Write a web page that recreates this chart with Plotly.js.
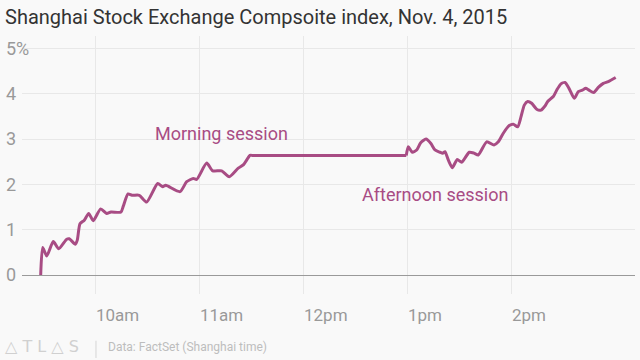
<!DOCTYPE html>
<html><head><meta charset="utf-8">
<script src="https://cdn.plot.ly/plotly-3.0.1.min.js"></script>
<style>html,body{margin:0;padding:0;background:#f9f9f9}#chart{width:640px;height:360px}</style>
</head><body><div id="chart"></div>
<script>
const tradeDate = "2015-11-04";
const times = ["09:28:06","09:29:15","09:31:34","09:35:22","09:38:29","09:43:06","09:44:36","09:48:04","09:49:13","09:50:46",
"09:53:15","09:55:47","09:58:26","10:02:43","10:06:10","10:08:39","10:14:25","10:15:45","10:18:28","10:20:46",
"10:24:59","10:29:13","10:35:36","10:38:29","10:40:13","10:48:28","10:52:20","10:56:08","10:58:06","11:03:52",
"11:07:20","11:12:31","11:16:54","11:22:06","11:24:59","11:28:51","11:30:00","12:59:00","13:00:10","13:02:29",
"13:05:01","13:07:20","13:10:23","13:13:06","13:15:35","13:18:28","13:20:01","13:21:21","13:23:15","13:25:34",
"13:28:26","13:30:59","13:35:22","13:38:05","13:40:34","13:45:24","13:49:37","13:52:06","13:54:59","13:58:26",
"14:00:45","14:03:17","14:05:11","14:07:06","14:09:04","14:11:22","14:14:15","14:16:44","14:19:02","14:20:36",
"14:23:50","14:25:47","14:28:16","14:30:35","14:32:53","14:35:56","14:38:15","14:40:34","14:42:31","14:44:25",
"14:47:08","14:49:47","14:52:40","14:55:33","14:59:50"];
const changePct = [0,0.61,0.42,0.74,0.58,0.79,0.80,0.68,0.77,1.13,
1.21,1.36,1.20,1.46,1.36,1.39,1.39,1.52,1.79,1.76,
1.76,1.61,2.02,1.95,1.98,1.84,2.06,2.13,2.11,2.47,
2.30,2.30,2.17,2.36,2.43,2.64,2.64,2.64,2.83,2.71,
2.76,2.92,3.00,2.91,2.76,2.71,2.69,2.72,2.54,2.37,
2.55,2.49,2.71,2.69,2.65,2.94,2.87,2.94,3.13,3.30,
3.33,3.27,3.49,3.75,3.83,3.79,3.66,3.64,3.73,3.83,
3.94,4.08,4.22,4.25,4.12,3.90,4.05,4.08,4.12,4.08,
4.03,4.14,4.23,4.27,4.36];
const lunchStart = "11:30:00";
const lunchEnd = "12:59:00";
const yTickVals = [0,1,2,3,4,5];
const yTickText = ["0","1","2","3","4","5%"];
const xTickVals = ["10:00","11:00","12:00","13:00","14:00"];
const xTickText = ["10am","11am","12pm","1pm","2pm"];
const noteTexts = ["Morning session","Afternoon session"];
const noteTimes = ["10:32:53","12:32:19"];
const noteValues = [3.13,1.77];

const d = t => tradeDate + " " + t;
const lineColor = "#a84c84";
const iA = times.indexOf(lunchStart), iB = times.indexOf(lunchEnd);

function seg(a, b, shape) {
  return {
    x: times.slice(a, b + 1).map(d), y: changePct.slice(a, b + 1),
    type: "scatter", mode: "lines",
    line: {color: lineColor, width: 3, shape: shape, smoothing: 0.6},
    hoverinfo: "skip"
  };
}
const traces = [seg(0, iA, "spline"), seg(iA, iB, "linear"), seg(iB, times.length - 1, "spline")];

const annotations = noteTexts.map((t,i)=>({
  text: t, x: d(noteTimes[i]), y: noteValues[i], xref: "x", yref: "y",
  xanchor: "left", yanchor: "middle", showarrow: false,
  font: {family: "Roboto", size: 18, color: lineColor}
}));
annotations.push({
  text: "△ T L △ S", xref: "paper", yref: "paper", x: -0.031, y: -0.205,
  xanchor: "left", yanchor: "middle", showarrow: false,
  font: {family: "DejaVu Sans", size: 16, color: "#d0d0d0"}
});
annotations.push({
  text: "Data: FactSet (Shanghai time)", xref: "paper", yref: "paper", x: 0.137, y: -0.205,
  xanchor: "left", yanchor: "middle", showarrow: false,
  font: {family: "Roboto", size: 12, color: "#bdbdbd"}
});

const layout = {
  width: 640, height: 360,
  paper_bgcolor: "#f9f9f9", plot_bgcolor: "#f9f9f9",
  margin: {l: 22, r: 5, t: 36, b: 66},
  showlegend: false,
  title: {text: "Shanghai Stock Exchange Compsoite index, Nov. 4, 2015",
    xref: "container", yref: "container", x: 5/640, y: 1 - 17/360,
    xanchor: "left", yanchor: "middle",
    font: {family: "Roboto", size: 20, color: "#333333"}},
  xaxis: {
    type: "date", range: [d("09:17:19"), d("15:10:58")],
    tickvals: xTickVals.map(d), ticktext: xTickText,
    ticklabelposition: "outside right", ticklabelstandoff: 9,
    showgrid: true, gridcolor: "#e8e8e8", gridwidth: 1,
    zeroline: false, showline: false, ticks: "",
    tickfont: {family: "Roboto", size: 17, color: "#999999"}
  },
  yaxis: {
    range: [-0.419, 5.276],
    tickvals: yTickVals, ticktext: yTickText,
    ticklabelposition: "inside", ticklabelstandoff: -19,
    showgrid: true, gridcolor: "#e8e8e8", gridwidth: 1,
    zeroline: true, zerolinecolor: "#9a9a9a", zerolinewidth: 1,
    showline: false, ticks: "",
    tickfont: {family: "Roboto", size: 18, color: "#999999"}
  },
  shapes: [{type: "line", xref: "paper", yref: "paper", x0: 0.1207, x1: 0.1207, y0: -0.181, y1: -0.248,
    line: {color: "#d5d5d5", width: 1}}],
  annotations: annotations
};

Plotly.newPlot("chart", traces, layout, {staticPlot: true, displayModeBar: false});
</script>
</body></html>
